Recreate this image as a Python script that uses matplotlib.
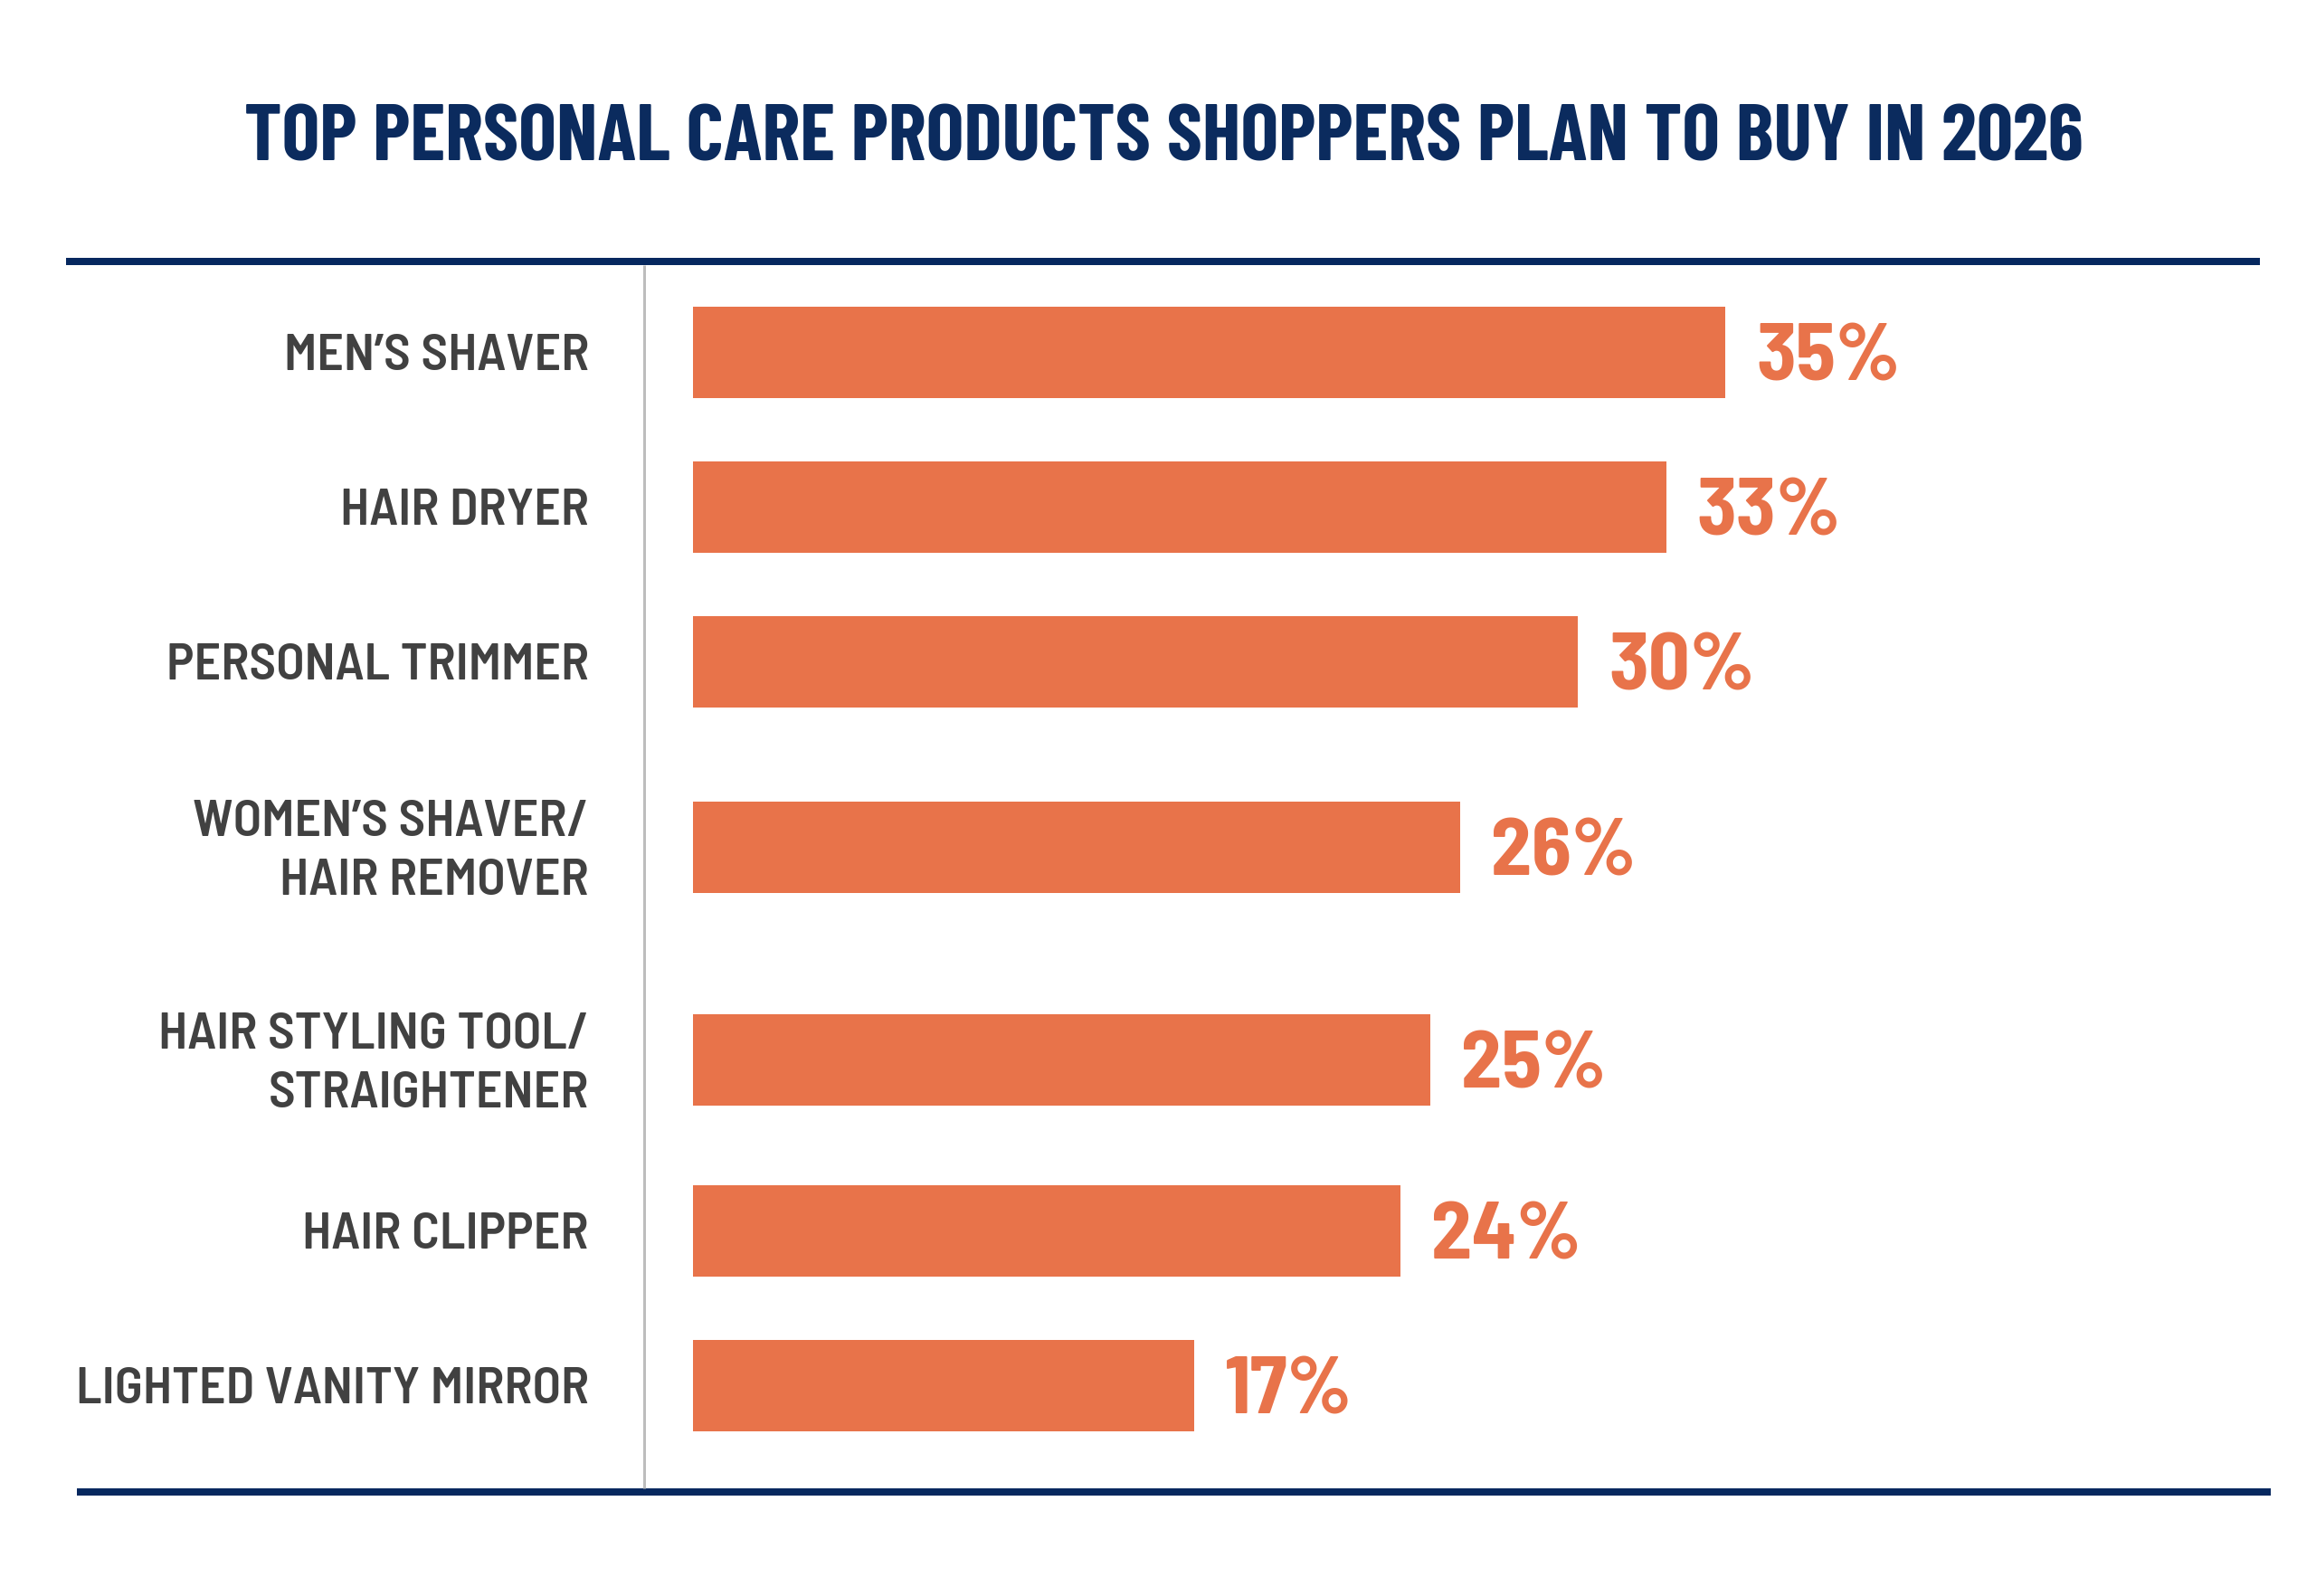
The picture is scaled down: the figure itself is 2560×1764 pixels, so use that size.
import matplotlib
matplotlib.use("Agg")
import matplotlib.pyplot as plt
from matplotlib.lines import Line2D

# ---------------- data ----------------
title = "TOP PERSONAL CARE PRODUCTS SHOPPERS PLAN TO BUY IN 2026"
categories = [
    "MEN\u2019S SHAVER",
    "HAIR DRYER",
    "PERSONAL TRIMMER",
    "WOMEN\u2019S SHAVER/\nHAIR REMOVER",
    "HAIR STYLING TOOL/\nSTRAIGHTENER",
    "HAIR CLIPPER",
    "LIGHTED VANITY MIRROR",
]
values = [35, 33, 30, 26, 25, 24, 17]
value_labels = [f"{v}%" for v in values]

# ---------------- style ----------------
W, H, DPI = 2560, 1764, 100
FONT = "Barlow Semi Condensed"
TITLE_FONT = "Barlow Condensed"
NAVY = "#06285F"
TITLE_C = "#0B2B5E"
ORANGE = "#E8734A"
GRAY_TXT = "#414141"
GRAY_LINE = "#BDBDBD"
PT = 72.0 / DPI  # points per pixel

CAP = 0.70  # cap height / em for the font
label_cap_px, title_cap_px, num_cap_px = 40.5, 62, 63
label_fs = label_cap_px / CAP * PT
title_fs = title_cap_px / CAP * PT
num_fs = num_cap_px / CAP * PT
line_pitch_px = 65

# row spacing (pixels) depending on number of label lines of neighbouring rows
GAP = {(1, 1): 171, (1, 2): 205, (2, 2): 235, (2, 1): 189}
nlines = [c.count("\n") + 1 for c in categories]
pos = [0.0]
for a, b in zip(nlines[:-1], nlines[1:]):
    pos.append(pos[-1] + GAP[(a, b)])

fig = plt.figure(figsize=(W / DPI, H / DPI), dpi=DPI)
fig.patch.set_facecolor("white")

def fx(px):
    return px / W

def fy(py):
    return 1 - py / H

# plot area (pixels)
ax_l, ax_r, ax_t, ax_b = 766, 2498, 294, 1641
first_center = 389
px_per_pct = 32.6
ax = fig.add_axes([fx(ax_l), fy(ax_b), fx(ax_r - ax_l), (ax_b - ax_t) / H])
ax.set_xlim(0, (ax_r - ax_l) / px_per_pct)
ax.set_ylim(ax_b - first_center, ax_t - first_center)  # inverted, 1 unit = 1 px
ax.axis("off")

ax.barh(pos, values, height=101, color=ORANGE, edgecolor="none")

for p, v, lab in zip(pos, values, value_labels):
    ax.annotate(lab, xy=(v, p), xytext=(34 * PT, -num_cap_px / 2 * PT),
                textcoords="offset points", ha="left", va="baseline",
                fontsize=num_fs, color=ORANGE, family=FONT, fontweight=700)

label_right_px = 651
for p, cat in zip(pos, categories):
    parts = cat.split("\n")
    n = len(parts)
    for i, line in enumerate(parts):
        dy = (i - (n - 1) / 2) * line_pitch_px + label_cap_px / 2
        ax.annotate(line, xy=(0, p), xytext=((label_right_px - ax_l) * PT, -dy * PT),
                    textcoords="offset points", ha="right", va="baseline",
                    fontsize=label_fs, color=GRAY_TXT, family=FONT, fontweight=600,
                    annotation_clip=False)

fig.text(fx(1286), fy(177), title, ha="center", va="baseline",
         fontsize=title_fs, color=TITLE_C, family=TITLE_FONT, fontweight=700)

# rules
fig.add_artist(Line2D([fx(73), fx(2498)], [fy(289), fy(289)], color=NAVY,
                      linewidth=8 * PT, solid_capstyle="butt", transform=fig.transFigure))
fig.add_artist(Line2D([fx(85), fx(2510)], [fy(1649), fy(1649)], color=NAVY,
                      linewidth=8 * PT, solid_capstyle="butt", transform=fig.transFigure))
fig.add_artist(Line2D([fx(712), fx(712)], [fy(293), fy(1645)], color=GRAY_LINE,
                      linewidth=3 * PT, solid_capstyle="butt", transform=fig.transFigure))

fig.savefig("out.png", dpi=DPI, facecolor="white")
